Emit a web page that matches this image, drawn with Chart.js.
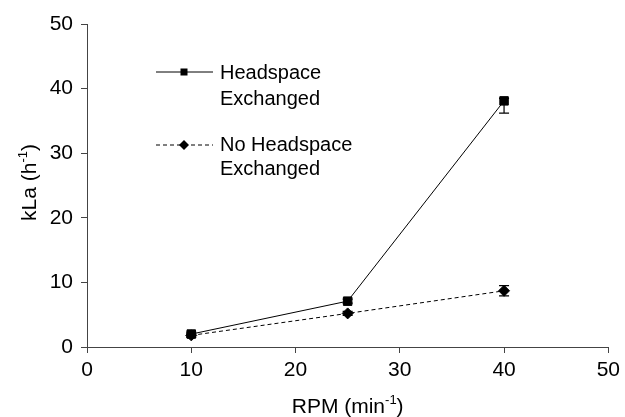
<!DOCTYPE html>
<html>
<head>
<meta charset="utf-8">
<script src="https://cdn.jsdelivr.net/npm/chart.js@4"></script>
<style>
  html, body { margin: 0; padding: 0; background: #fff; }
  #wrap { width: 625px; height: 417px; position: relative; }
</style>
</head>
<body>
<div id="wrap"><canvas id="chart"></canvas></div>
<script>
// RPM values and kLa readings (h^-1)
var rpm         = [10, 25, 40];
var headspace   = [2.0, 7.1, 38.1];
var noHeadspace = [1.8, 5.2, 8.7];

// error bars, as +/- amounts
var headspaceErrUp   = [0.3, 0.3, 0.4];
var headspaceErrDown = [0.3, 0.3, 1.9];
var noHeadErrUp      = [0.3, 0.3, 0.8];
var noHeadErrDown    = [0.3, 0.3, 0.8];

var axisTicks = [0, 10, 20, 30, 40, 50];

var seriesNames = [["Headspace", "Exchanged"], ["No Headspace", "Exchanged"]];

var FONT = "Liberation Sans, Arial, Helvetica, sans-serif";
var AXIS = "#444";

function toPoints(xs, ys) {
    return xs.map(function(x, i) { return { x: x, y: ys[i] }; });
}

/* ── error bars ─────────────────────────────────────────────────────────── */
var errorBars = {
    id: "errorBars",
    afterDatasetsDraw: function(chart) {
        var ctx = chart.ctx;
        var yScale = chart.scales.y;
        var errs = [[headspaceErrUp, headspaceErrDown], [noHeadErrUp, noHeadErrDown]];
        ctx.save();
        ctx.strokeStyle = "#000";
        ctx.lineWidth = 1.2;
        chart.data.datasets.forEach(function(ds, di) {
            var meta = chart.getDatasetMeta(di);
            meta.data.forEach(function(pt, i) {
                var v = ds.data[i].y;
                var top = yScale.getPixelForValue(v + errs[di][0][i]);
                var bot = yScale.getPixelForValue(v - errs[di][1][i]);
                ctx.beginPath();
                ctx.moveTo(pt.x, top); ctx.lineTo(pt.x, bot);
                ctx.moveTo(pt.x - 5, top); ctx.lineTo(pt.x + 5, top);
                ctx.moveTo(pt.x - 5, bot); ctx.lineTo(pt.x + 5, bot);
                ctx.stroke();
            });
        });
        ctx.restore();
    }
};

/* ── legend + axis titles with superscripts ─────────────────────────────── */
function drawSup(ctx, x, y, base, sup, tail, size, rotate) {
    ctx.save();
    ctx.translate(x, y);
    if (rotate) ctx.rotate(-Math.PI / 2);
    ctx.fillStyle = "#000";
    ctx.textBaseline = "alphabetic";
    ctx.font = size + "px " + FONT;
    var wBase = ctx.measureText(base).width;
    var wTail = ctx.measureText(tail).width;
    ctx.font = Math.round(size * 0.62) + "px " + FONT;
    var wSup = ctx.measureText(sup).width;
    var start = -(wBase + wSup + wTail) / 2;
    ctx.font = size + "px " + FONT;
    ctx.textAlign = "left";
    ctx.fillText(base, start, 0);
    ctx.font = Math.round(size * 0.62) + "px " + FONT;
    ctx.fillText(sup, start + wBase, -size * 0.42);
    ctx.font = size + "px " + FONT;
    ctx.fillText(tail, start + wBase + wSup, 0);
    ctx.restore();
}

var annotations = {
    id: "annotations",
    afterDraw: function(chart) {
        var ctx = chart.ctx;
        var area = chart.chartArea;
        var cx = (area.left + area.right) / 2;
        var cy = (area.top + area.bottom) / 2;

        drawSup(ctx, cx, 413, "RPM (min", "-1", ")", 21, false);
        drawSup(ctx, 36, cy - 3, "kLa (h", "-1", ")", 21, true);

        // legend
        ctx.save();
        ctx.strokeStyle = "#000";
        ctx.fillStyle = "#000";
        ctx.lineWidth = 1;
        // solid entry
        ctx.beginPath();
        ctx.moveTo(156, 72); ctx.lineTo(213, 72);
        ctx.stroke();
        ctx.fillRect(180.5, 68.5, 7, 7);
        // dashed entry
        ctx.setLineDash([4, 3]);
        ctx.beginPath();
        ctx.moveTo(156, 145); ctx.lineTo(213, 145);
        ctx.stroke();
        ctx.setLineDash([]);
        ctx.beginPath();
        ctx.moveTo(184, 140); ctx.lineTo(189, 145);
        ctx.lineTo(184, 150); ctx.lineTo(179, 145);
        ctx.closePath();
        ctx.fill();

        ctx.font = "20px " + FONT;
        ctx.textAlign = "left";
        ctx.textBaseline = "alphabetic";
        ctx.fillText(seriesNames[0][0], 220, 79);
        ctx.fillText(seriesNames[0][1], 220, 105);
        ctx.fillText(seriesNames[1][0], 220, 151);
        ctx.fillText(seriesNames[1][1], 220, 175);
        ctx.restore();
    }
};

var axisStyle = {
    type: "linear",
    min: axisTicks[0],
    max: axisTicks[axisTicks.length - 1],
    afterBuildTicks: function(scale) {
        scale.ticks = axisTicks.map(function(v) { return { value: v }; });
    },
    grid: {
        display: true,
        drawOnChartArea: false,
        drawTicks: true,
        tickLength: 6,
        color: AXIS,
        lineWidth: 1
    },
    border: { display: true, color: AXIS, width: 1 },
    title: { display: false }
};

var xAxis = Object.assign({}, axisStyle, {
    position: "bottom",
    ticks: { color: "#000", font: { family: FONT, size: 21 }, padding: 5, maxRotation: 0 },
    afterFit: function(scale) { scale.height = 70; }
});
var yAxis = Object.assign({}, axisStyle, {
    position: "left",
    ticks: { color: "#000", font: { family: FONT, size: 21 }, padding: 8 },
    afterFit: function(scale) { scale.width = 87; }
});

new Chart(document.getElementById("chart"), {
    type: "scatter",
    data: {
        datasets: [{
            label: "Headspace Exchanged",
            data: toPoints(rpm, headspace),
            showLine: true,
            borderColor: "#000",
            borderWidth: 1,
            backgroundColor: "#000",
            pointStyle: "rect",
            pointRadius: 6,
            pointHoverRadius: 6
        }, {
            label: "No Headspace Exchanged",
            data: toPoints(rpm, noHeadspace),
            showLine: true,
            borderColor: "#000",
            borderWidth: 1,
            borderDash: [4, 3],
            backgroundColor: "#000",
            pointStyle: "rectRot",
            pointRadius: 5.5,
            pointHoverRadius: 5.5
        }]
    },
    options: {
        responsive: true,
        maintainAspectRatio: false,
        animation: false,
        devicePixelRatio: 1,
        layout: { autoPadding: false, padding: { left: 0, right: 14, top: 24, bottom: 0 } },
        plugins: { legend: { display: false }, tooltip: { enabled: false } },
        scales: { x: xAxis, y: yAxis }
    },
    plugins: [errorBars, annotations]
});
</script>
</body>
</html>
